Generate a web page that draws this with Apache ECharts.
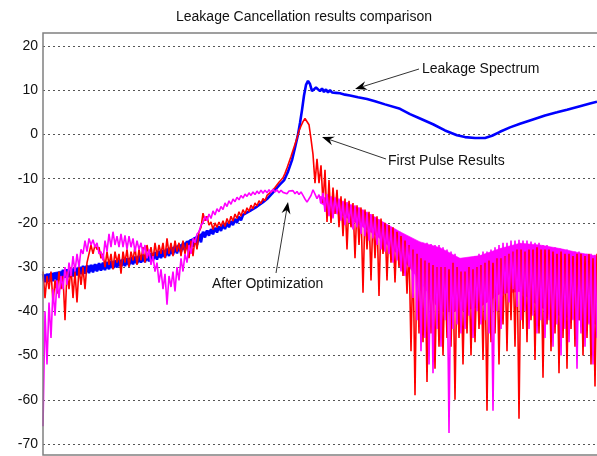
<!DOCTYPE html>
<html>
<head>
<meta charset="utf-8">
<script src="https://cdn.jsdelivr.net/npm/echarts@6/dist/echarts.min.js"></script>
<style>
  html, body { margin: 0; padding: 0; background: #fff; }
  #chart { width: 597px; height: 456px; }
</style>
</head>
<body>
<div id="chart"></div>
<script>
// sample spacing along x (arbitrary frequency units)
const STEP = 2;

// y axis ticks (dB)
const yTicks = [-70, -60, -50, -40, -30, -20, -10, 0, 10, 20];

// First Pulse Results (red), one value per sample
const redY = [
  -31, -37, -32, -35, -31, -38, -33, -36, -31, -35,
  -32, -42, -31, -35, -30, -37, -31, -38, -30, -34,
  -30, -35, -29, -27, -25, -27, -25, -26, -25.5, -28,
  -27, -30, -26.5, -29.5, -27, -30.5, -26.5, -29, -27, -31.5,
  -26.5, -29, -26, -30, -26.5, -28.5, -25.5, -29.5, -26, -28.5,
  -25.5, -29, -25, -27.5, -25.5, -28.5, -24.5, -27.5, -25, -27,
  -24.5, -28, -23.5, -27, -24.5, -27.5, -24, -26.5, -24.5, -27.5,
  -24, -27, -24.5, -28, -24, -27.5, -23.5, -26, -22, -21,
  -17.8, -19.5, -18.5, -20.5, -19.8, -21.5, -20, -21, -19.8, -20.8,
  -19.5, -20.8, -19, -20.2, -18.5, -19.6, -18, -19, -17.5, -18.5,
  -17, -18, -16.6, -17.4, -16, -16.8, -15.5, -16.2, -15, -15.6,
  -14.5, -15, -13.8, -14.2, -13, -13.2, -12, -11.8, -10.8, -10.5,
  -9.8, -8.8, -7.6, -6.3, -5, -3.6, -2.2, -0.8, 0.8, 1.9,
  2.9, 3.6, 3.5, 2.2, -1, -4.5, -11, -5.5, -11, -7,
  -15.5, -8, -19.8, -10.3, -20, -12, -18, -12.5, -21, -14,
  -23, -14.5, -26, -15, -21, -15.5, -28, -16, -25, -16.5,
  -35.8, -17, -26, -17.5, -33, -18, -28, -18.5, -36.5, -19,
  -27, -20, -33, -20.5, -29, -21, -33.5, -22, -30, -23,
  -32, -24, -36, -25, -49, -26, -59, -27, -45, -28,
  -47, -28.5, -56, -29, -45, -29.5, -53, -30, -48, -30,
  -50, -30, -46, -30.5, -48, -29, -60, -30, -46, -31,
  -52, -31, -45, -30, -50, -30.5, -47, -30, -44, -29.5,
  -51, -29, -62.5, -28.5, -47, -29, -45, -28, -52, -28,
  -43, -27.5, -49, -27, -42, -26.5, -48, -26, -64.3, -26,
  -44, -26.5, -47, -26, -42, -26, -51, -25.5, -45, -26,
  -55, -26, -43, -26, -49, -26.5, -45, -27, -54, -26.5,
  -46, -27, -53, -27, -44, -27.5, -48, -27, -42, -27,
  -50, -27.5, -46, -27, -52, -28, -57, -27
];

// After Optimization (magenta), one value per sample
const magentaY = [
  -66, -40, -52, -38, -46, -35, -41, -33, -37, -32,
  -35, -30, -34, -29, -32, -27.5, -31, -27, -30, -26,
  -27, -24, -26.5, -23.5, -25, -23.8, -25.5, -24.5, -27, -26.5,
  -28.5, -24, -26.5, -22.5, -25.5, -22, -25, -23, -25.5, -22.5,
  -25.5, -22.8, -26, -23, -25.5, -23.5, -26.5, -24, -26, -24.5,
  -27, -25, -28, -26, -29.5, -27.5, -31, -29, -33.5, -30.5,
  -35, -31.5, -38.5, -32, -34.5, -31, -35.5, -30, -33, -28,
  -31, -27, -29, -25, -27, -23.5, -24.5, -22.5, -22, -20.5,
  -20, -18.5, -19.5, -18, -19, -17.3, -18.2, -16.8, -17.5, -16.3,
  -17, -15.5, -16.3, -15, -15.8, -14.6, -15.2, -14.2, -14.8, -13.8,
  -14.4, -13.5, -14, -13.2, -13.8, -13, -13.6, -12.8, -13.4, -12.6,
  -13.3, -12.6, -13.2, -12.5, -13.1, -12.4, -13, -12.5, -13.2, -12.6,
  -13.1, -12.7, -13.4, -12.8, -13.2, -12.7, -13.4, -12.9, -13.6, -13,
  -13.8, -14.6, -15.3, -15, -13.8, -12.5, -13.5, -14.5, -13.6, -15.5,
  -13.2, -17.5, -13.5, -18.5, -14, -19, -14.2, -18, -14.5, -19.5,
  -15, -20.5, -15.3, -20, -15.8, -21.5, -16, -21, -16.5, -22.5,
  -17, -23, -17.5, -24, -18, -23.5, -18.6, -25, -19.2, -26,
  -19.8, -26.5, -20.5, -27, -21, -29, -21.5, -28.5, -22.5, -31,
  -23, -32, -23.5, -30, -24, -37, -24, -42, -24.5, -49,
  -24.5, -46, -24.5, -52, -24.8, -54, -25, -44, -25, -48,
  -25.5, -42, -26, -67.5, -26.5, -44, -27, -43, -28, -45,
  -28, -44, -28, -41, -27.8, -46, -27.5, -40, -27, -43,
  -26.5, -42, -26.5, -45, -26, -62.5, -25.5, -40, -25, -44,
  -24.5, -36, -24.5, -38, -24, -35, -24, -39, -23.8, -42,
  -24, -40, -24, -44, -24.2, -41, -24.5, -45, -24.5, -42,
  -25, -46, -25, -42, -25.5, -48, -25.5, -43, -26, -50,
  -26, -44, -26, -47, -26.5, -42, -26.5, -53, -26.5, -45,
  -27, -48, -27, -43, -27, -52, -27.2, -46
];

// After Optimization: where the trace is so dense it reads as a solid band
const magentaCoreX = [277, 297, 317, 337, 357, 377, 397, 417, 437, 457, 477, 497, 517, 537, 554];
const magentaCoreTop = [-14, -15.2, -16.8, -19.4, -22, -24.3, -25.6, -28, -27.4, -25.8, -24.6, -25, -25.8, -26.8, -27.5];
const magentaCoreBottom = [-15.5, -18, -20.5, -23.5, -27.5, -33, -40, -40, -39, -36, -35.5, -39, -41, -42, -43];

// Leakage Spectrum (blue): noisy band at low frequencies, one value per sample
const blueBandY = [
  -31.6, -33.4, -31.5, -33.3, -31.4, -33.2, -31.3, -33.1, -31.2, -33.0,
  -30.6, -32.4, -30.5, -32.3, -30.3, -32.1, -30.1, -31.9, -29.9, -31.6,
  -29.7, -31.5, -29.6, -31.4, -29.5, -31.2, -29.3, -31.0, -29.1, -30.8,
  -29.0, -30.7, -28.8, -30.5, -28.6, -30.3, -28.5, -30.1, -28.3, -29.9,
  -28.1, -29.8, -28.0, -29.6, -27.8, -29.4, -27.6, -29.2, -27.4, -29.0,
  -27.2, -28.9, -27.0, -28.7, -26.8, -28.5, -26.6, -28.3, -26.3, -28.0,
  -26.1, -27.8, -25.8, -27.5, -25.5, -27.2, -25.2, -26.9, -24.9, -26.6,
  -24.5, -26.2, -24.1, -25.8, -23.7, -25.4, -23.3, -25.0, -22.8, -24.4,
  -22.0, -23.3, -21.7, -22.9, -21.4, -22.6, -21.1, -22.2, -20.8, -21.8,
  -20.4, -21.4, -20.0, -21.0, -19.6, -20.5, -19.1, -20.0, -18.6, -19.4
];

// Leakage Spectrum: solid part of the low-frequency band
const blueCoreX = [0, 20, 40, 60, 80, 100, 120, 140, 160, 180, 198];
const blueCoreTop = [-31.8, -30.8, -29.9, -29.2, -28.3, -27.4, -26.3, -24.7, -22.2, -20.6, -18.8];
const blueCoreBottom = [-33.2, -32.2, -31.3, -30.5, -29.6, -28.7, -27.6, -26.0, -23.1, -21.2, -19.2];

// Leakage Spectrum (blue): rest of the curve
const blueTailX = [
  200, 207, 214, 220, 224, 229, 233, 237, 241, 245, 249, 252, 255, 257, 259, 261,
  263, 265, 267, 269, 271, 273, 275, 277, 279, 281, 283, 285, 287, 289, 291, 293,
  297, 302, 307, 315, 324, 332, 342, 357, 367, 377, 390, 402, 414, 422, 432, 442,
  449, 457, 467, 477, 490, 502, 514, 524, 537, 547, 554
];
const blueTailY = [
  -18.2, -17.3, -16.3, -15.3, -14.6, -13.4, -12.3, -11.3, -10.4, -8.4, -5.8, -3, 0, 2.6, 5.5, 8.8,
  11.2, 12.1, 11.4, 9.8, 9.5, 10.6, 10.7, 9.8, 10.4, 9.6, 10.2, 9.5, 10.0, 9.5, 9.8, 9.4,
  9.3, 9.0, 8.8, 8.4, 8.0, 7.5, 6.8, 5.8, 4.6, 3.6, 2.3, 0.9, -0.2, -0.6, -0.8, -0.8,
  -0.3, 0.6, 1.6, 2.4, 3.4, 4.3, 5.0, 5.6, 6.4, 7.0, 7.4
];

const redData = redY.map((v, i) => [i * STEP, v]);
const magentaData = magentaY.map((v, i) => [i * STEP, v]);
const blueData = blueBandY.map((v, i) => [i * STEP, v])
  .concat(blueTailX.map((x, i) => [x, blueTailY[i]]));
const magentaCore = magentaCoreX.map((x, i) => [x, magentaCoreTop[i], magentaCoreBottom[i]]);
const blueCore = blueCoreX.map((x, i) => [x, blueCoreTop[i], blueCoreBottom[i]]);

const FONT = '"Liberation Sans", Arial, sans-serif';

// arrow from label (x1,y1) to tip (x2,y2), pixel space
function arrow(x1, y1, x2, y2) {
  const dx = x2 - x1, dy = y2 - y1, L = Math.hypot(dx, dy);
  const ux = dx / L, uy = dy / L;
  const hl = 12, hw = 4.5;
  const bx = x2 - ux * hl, by = y2 - uy * hl;
  return [
    { type: 'line', z: 100, shape: { x1: x1, y1: y1, x2: bx + ux * 4, y2: by + uy * 4 },
      style: { stroke: '#333', lineWidth: 1 } },
    { type: 'polygon', z: 100, shape: { points: [
        [x2, y2], [bx - uy * hw, by + ux * hw], [bx + ux * 4, by + uy * 4], [bx + uy * hw, by - ux * hw]
      ] }, style: { fill: '#000' } }
  ];
}
function label(text, x, y) {
  return { type: 'text', z: 100, x: x, y: y,
    style: { text: text, font: '14px ' + FONT, fill: '#111', textAlign: 'left', textVerticalAlign: 'middle' } };
}

// custom series that fills the band between neighbouring [x, top, bottom] samples
function coreSeries(name, data, color) {
  return {
    name: name, type: 'custom', data: data, silent: true,
    encode: { x: 0, y: [1, 2] },
    renderItem: function (params, api) {
      const i = params.dataIndex;
      if (i >= data.length - 1) return null;
      const a = data[i], b = data[i + 1];
      const pts = [api.coord([a[0], a[1]]), api.coord([b[0], b[1]]),
                   api.coord([b[0], b[2]]), api.coord([a[0], a[2]])];
      return { type: 'polygon', shape: { points: pts },
        style: { fill: color, stroke: color, lineWidth: 0.6 } };
    }
  };
}

const chart = echarts.init(document.getElementById('chart'));
chart.setOption({
  animation: false,
  backgroundColor: '#fff',
  title: {
    text: 'Leakage Cancellation results comparison',
    left: 176, top: 10, padding: 0,
    textStyle: { fontFamily: FONT, fontSize: 14, fontWeight: 'normal', color: '#111' }
  },
  grid: { left: 43, right: 0, top: 46, bottom: 12 },
  xAxis: {
    type: 'value', min: 0, max: 554,
    axisLine: { show: false }, axisTick: { show: false },
    axisLabel: { show: false }, splitLine: { show: false }
  },
  yAxis: {
    type: 'value', min: yTicks[0], max: yTicks[yTicks.length - 1], interval: 10,
    axisLine: { show: false }, axisTick: { show: false },
    axisLabel: { color: '#111', fontSize: 14, fontFamily: FONT, margin: 5 },
    splitLine: { lineStyle: { color: '#555', type: [2, 3], width: 1 } }
  },
  series: [
    coreSeries('Leakage Spectrum core', blueCore, '#0000ff'),
    { name: 'Leakage Spectrum', type: 'line', data: blueData, showSymbol: false,
      lineStyle: { color: '#0000ff', width: 2.6 }, itemStyle: { color: '#0000ff' } },
    { name: 'First Pulse Results', type: 'line', data: redData, showSymbol: false,
      lineStyle: { color: '#ff0000', width: 1.6 }, itemStyle: { color: '#ff0000' } },
    coreSeries('After Optimization core', magentaCore, '#ff00ff'),
    { name: 'After Optimization', type: 'line', data: magentaData, showSymbol: false,
      lineStyle: { color: '#ff00ff', width: 1.6 }, itemStyle: { color: '#ff00ff' } }
  ],
  graphic: [
    { type: 'rect', z: 90, shape: { x: 43, y: 33, width: 600, height: 422 },
      style: { fill: 'none', stroke: '#808080', lineWidth: 1.5 } },
    label('Leakage Spectrum', 422, 69),
    label('First Pulse Results', 388, 161),
    label('After Optimization', 212, 284)
  ]
    .concat(arrow(419, 69, 355, 89))
    .concat(arrow(386, 159, 322, 137))
    .concat(arrow(276, 273, 288, 202))
});
</script>
</body>
</html>
